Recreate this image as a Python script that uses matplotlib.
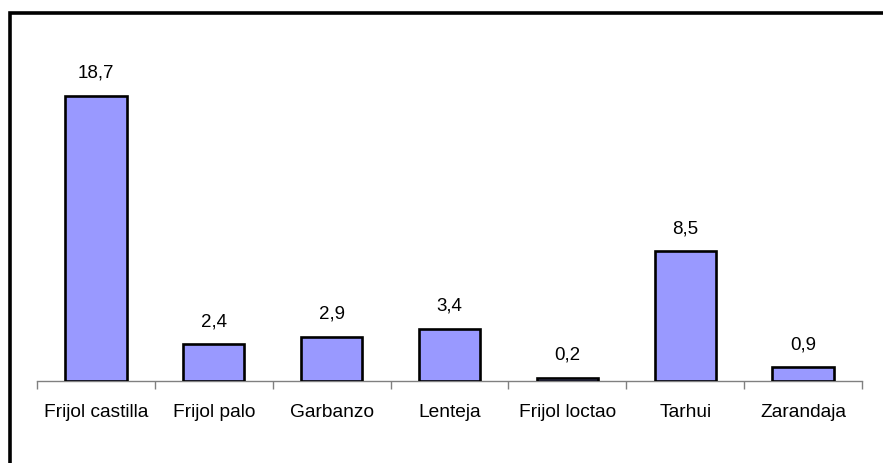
import numpy as np
import matplotlib.pyplot as plt
from matplotlib.patches import Rectangle

categorias = ["Frijol castilla", "Frijol palo", "Garbanzo", "Lenteja",
              "Frijol loctao", "Tarhui", "Zarandaja"]
valores = [18.7, 2.4, 2.9, 3.4, 0.2, 8.5, 0.9]
etiquetas = ["18,7", "2,4", "2,9", "3,4", "0,2", "8,5", "0,9"]

plt.rcParams['font.family'] = ['Liberation Sans', 'DejaVu Sans']

fig = plt.figure(figsize=(8.83, 4.64), dpi=100)
W, H = 883, 464

# plot area in pixels: x 37..862, baseline at y=382
x0, x1 = 37, 862
y_base, y_top = 382, 40
ax = fig.add_axes([x0 / W, (H - y_base) / H, (x1 - x0) / W, (y_base - y_top) / H])

x = np.arange(len(categorias))
ax.bar(x, valores, width=0.52, color='#9999ff', edgecolor='black', linewidth=1.9,
       zorder=3)

for xi, v, t in zip(x, valores, etiquetas):
    ax.annotate(t, (xi, v), xytext=(0, 11), textcoords='offset points',
                ha='center', va='bottom', fontsize=13.5)

ymax = (y_base - y_top) / ((y_base - 97) / 18.7)
ax.set_xlim(-0.5, len(categorias) - 0.5)
ax.set_ylim(0, ymax)

for s in ['top', 'right', 'left']:
    ax.spines[s].set_visible(False)
ax.spines['bottom'].set_color('#808080')
ax.spines['bottom'].set_linewidth(1.0)
ax.set_yticks([])

# category boundaries get the ticks, labels sit centered below
ax.set_xticks(np.arange(len(categorias) + 1) - 0.5)
ax.set_xticklabels([])
ax.tick_params(axis='x', direction='out', length=6, width=1.0, color='#808080')
ax.set_xticks(x, minor=True)
ax.set_xticklabels(categorias, minor=True, fontsize=13.8)
ax.tick_params(axis='x', which='minor', length=0, pad=16)

# outer frame, running off the right and bottom edges
fig.patches.append(Rectangle((10 / W, -0.1), 1.2, (H - 14) / H + 0.1,
                             transform=fig.transFigure, fill=False,
                             edgecolor='black', linewidth=2.6, clip_on=False))

fig.savefig('out.png', dpi=100)
